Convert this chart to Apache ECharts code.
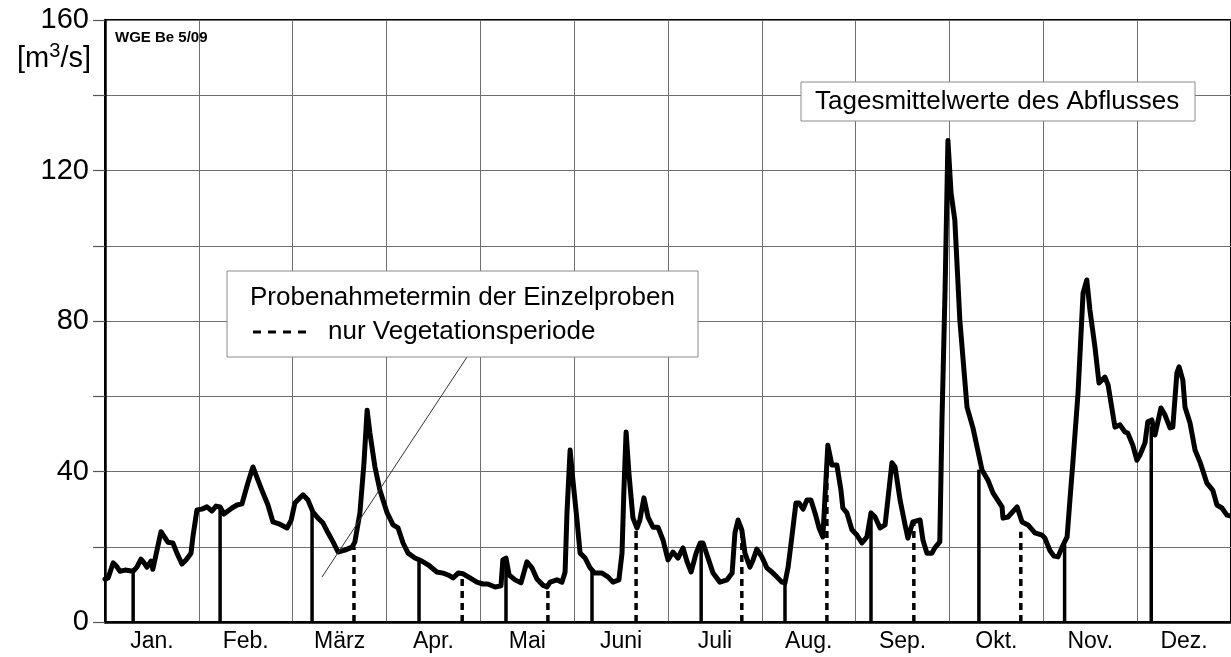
<!DOCTYPE html>
<html>
<head>
<meta charset="utf-8">
<script src="https://cdn.jsdelivr.net/npm/echarts@6/dist/echarts.min.js"></script>
<style>
html,body{margin:0;padding:0;background:#fff;}
#chart{width:1231px;height:657px;}
</style>
</head>
<body>
<div id="chart"></div>
<script>
// Months (schematic year: each month drawn with equal width = 30 "days")
const months = ['Jan.','Feb.','März','Apr.','Mai','Juni','Juli','Aug.','Sep.','Okt.','Nov.','Dez.'];
const yTicks = [0, 40, 80, 120, 160];

// Daily mean discharge (Tagesmittelwerte des Abflusses), position in schematic days
const days = [0,1.0,2.6,3.5,4.8,6.4,9.0,10.2,11.5,12.5,13.4,14.7,15.3,16.6,17.9,18.5,20.1,21.7,23.0,24.6,25.9,27.5,28.1,29.4,31.0,32.6,34.2,35.5,36.8,38.0,40.6,42.2,43.8,44.4,45.7,47.3,48.9,50.5,52.1,53.7,55.9,58.2,59.5,60.7,63.3,64.9,66.5,68.1,69.7,71.3,72.9,74.5,76.7,79.0,79.9,81.5,82.8,83.8,84.7,86.3,87.9,90.2,92.1,93.7,95.3,96.9,99.1,101.3,103.3,106.1,108.1,109.7,111.3,112.9,114.5,116.7,118.9,120.8,122.4,124.7,126.6,127.2,128.2,129.2,131.1,133.0,134.9,136.5,138.1,140.0,141.3,142.3,144.5,146.1,147.1,147.7,148.7,149.6,150.9,151.9,153.5,155.1,156.6,158.9,160.8,162.4,164.3,165.3,165.9,166.6,167.5,168.8,170.1,171.0,172.3,173.6,175.2,176.8,178.4,180.0,181.6,183.2,184.8,186.1,187.4,189.0,190.3,191.2,192.8,194.4,196.6,198.9,200.5,201.4,202.4,203.6,204.6,206.2,207.2,208.4,210.0,211.6,213.2,214.8,216.4,217.4,218.4,219.6,220.9,221.9,223.2,224.4,225.7,227.0,228.3,229.5,230.5,231.1,232.4,234.0,235.3,235.9,237.2,238.8,240.4,242.0,243.6,244.9,246.2,247.8,249.4,251.6,252.6,254.2,255.8,256.7,258.3,260.6,261.5,262.8,264.4,265.3,266.9,267.6,268.6,269.5,270.5,271.7,273.3,275.6,277.5,280.4,282.3,283.9,286.8,287.1,288.7,291.6,293.2,295.1,297.3,299.6,300.5,302.1,303.4,304.7,306.0,307.6,308.5,309.5,311.1,312.7,313.9,314.9,316.5,317.8,319.7,320.7,322.9,324.5,326.1,327.0,328.6,329.9,330.9,332.5,333.4,334.7,335.7,337.6,338.9,340.5,341.4,342.7,343.4,344.6,345.3,346.9,348.5,350.1,352.3,354.2,355.5,357.1,358.7,359.7];
const flow = [11.4,11.7,15.7,15,13.5,13.8,13.5,14.6,16.7,15.7,14.6,16.2,14,19,24,24.3,21.2,21,18.3,15.4,16.5,18.3,22.6,29.8,30,30.6,29.5,30.8,30.6,28.7,30.3,31.1,31.4,31.6,37,41.2,37.7,34.3,31.1,26.6,26,25,27,31.6,33.8,32.4,29.2,27.6,26.3,23.7,21.3,18.6,19.1,19.9,21.3,29,42.3,56.3,50.2,41.2,35,29,25.8,25,21,18.3,17,16.2,15.2,13.3,13,12.5,11.7,13,12.8,11.7,10.6,10.1,10.1,9.3,9.6,16.5,17,12.5,11.2,10.4,16,14.4,11.4,9.8,9.3,10.6,11.2,10.6,13.3,29,45.7,37.7,27.1,18.3,17,14.4,13,13,12,10.6,11.2,18.3,35,50.5,39.6,27.6,25,27.1,33,27.9,25.2,25.2,21.8,16.5,18.6,17,19.7,16,13.3,18.3,21,21,17,13,10.6,11.2,13,23.7,27.1,24.5,18.3,14.6,16.5,19.4,17.3,14.4,13.3,12,10.6,10.4,14.6,22.6,31.6,31.6,30,32.4,32.4,29,25,22.6,37.7,47,41.7,41.7,35,30.3,29,24.5,23.1,21,22.6,29,27.9,25,25.8,42.3,41.2,32.4,25.8,22.3,26.6,27.1,21.8,18.3,18.3,19.7,21.3,53.7,89,128,114,106.8,80.3,57.1,51.6,40.4,37.7,34.3,30.6,27.6,27.9,30.6,26.6,25.8,23.7,23.1,22.3,19,17.5,17.3,19.9,22.6,32.4,43,60.9,87.4,90.9,82.9,73.1,63.5,65.1,63,51.8,52.4,50.5,50.2,47,43,44.4,47.6,53.2,53.7,49.7,56.9,55,51.6,51.8,66.2,67.8,64.3,57.1,52.9,45.7,42.5,36.9,35,31.1,30.3,28.4,28.2];

// Sampling dates (Probenahmetermine): position, discharge at that date, 1 = only vegetation period (dashed)
const sampleDays = [9.0,36.8,66.2,79.6,100.4,114.2,128.2,141.6,155.7,169.8,190.6,203.6,217.4,230.8,244.9,258.6,279.4,292.8,306.8,334.5];
const sampleFlow = [13.5,30.6,29.5,20,16.5,12.8,17,9.5,13.5,26,21,24.5,10.4,45,29,26.6,40.5,24,20.5,52];
const sampleVeg  = [0,0,0,1,0,1,0,1,0,1,0,1,0,1,0,1,0,1,0,0];

const FONT = "'Liberation Sans', Arial, Helvetica, sans-serif";

const chart = echarts.init(document.getElementById('chart'), null, {renderer: 'canvas'});

const curveData = days.map((d, i) => [d, flow[i]]);
const sampleData = sampleDays.map((d, i) => [d, sampleFlow[i], sampleVeg[i]]);

const option = {
  animation: false,
  backgroundColor: '#fff',
  grid: {
    left: 105, top: 20, right: 0, bottom: 35,
    show: true, borderColor: '#000', borderWidth: 2, backgroundColor: 'transparent'
  },
  xAxis: [
    {
      type: 'value', min: 0, max: 360, interval: 30,
      axisLine: {show: true, onZero: false, lineStyle: {color: '#000', width: 2.5}},
      axisTick: {show: false},
      axisLabel: {show: false},
      splitLine: {show: true, lineStyle: {color: '#6e6e6e', width: 1}}
    },
    {
      type: 'category', data: months, position: 'bottom', boundaryGap: true,
      axisLine: {show: false}, axisTick: {show: false}, splitLine: {show: false},
      axisLabel: {color: '#000', fontSize: 23, fontFamily: FONT, margin: 8, interval: 0}
    }
  ],
  yAxis: {
    type: 'value', min: 0, max: 160, interval: 20,
    axisLine: {show: true, lineStyle: {color: '#000', width: 2.5}},
    axisTick: {show: true, length: 12, inside: false, lineStyle: {color: '#555', width: 1.2}},
    axisLabel: {
      color: '#000', fontSize: 29, fontFamily: FONT, margin: 16,
      formatter: v => (yTicks.indexOf(v) >= 0 ? String(v) : '')
    },
    splitLine: {show: true, lineStyle: {color: '#6e6e6e', width: 1}}
  },
  series: [
    {
      type: 'custom',
      xAxisIndex: 0, yAxisIndex: 0,
      z: 2,
      data: sampleData,
      encode: {x: 0, y: 1},
      renderItem: function (params, api) {
        const x = api.value(0), y = api.value(1), veg = api.value(2);
        const p0 = api.coord([x, 0]);
        const p1 = api.coord([x, y]);
        return {
          type: 'line',
          shape: {x1: p0[0], y1: p0[1], x2: p1[0], y2: p1[1]},
          style: {stroke: '#000', lineWidth: 3.5, lineDash: veg ? [7, 5] : null}
        };
      }
    },
    {
      type: 'line',
      xAxisIndex: 0, yAxisIndex: 0,
      z: 3,
      data: curveData,
      showSymbol: false,
      symbol: 'none',
      smooth: false,
      lineStyle: {color: '#000', width: 5, join: 'round', cap: 'round'}
    }
  ],
  graphic: [
    {
      type: 'text', left: 115, top: 30, z: 10,
      style: {text: 'WGE Be 5/09', font: 'bold 15px ' + FONT, fill: '#000'}
    },
    {
      type: 'text', right: 1231 - 91, top: 41, z: 10,
      style: {
        text: '{b|[m}{s|3}{b|/s]}',
        rich: {
          b: {fontSize: 29, fontFamily: FONT, fill: '#000', lineHeight: 36},
          s: {fontSize: 20, fontFamily: FONT, fill: '#000', verticalAlign: 'top', lineHeight: 28}
        }
      }
    },
    // Legend box: sampling dates
    {
      type: 'rect', z: 10,
      shape: {x: 227, y: 271, width: 471, height: 86},
      style: {fill: '#fff', stroke: '#8a8a8a', lineWidth: 1}
    },
    {
      type: 'text', x: 250, y: 298, z: 11,
      style: {text: 'Probenahmetermin der Einzelproben', font: '26px ' + FONT, fill: '#000', textVerticalAlign: 'middle', verticalAlign: 'middle'}
    },
    {
      type: 'line', z: 11,
      shape: {x1: 253, y1: 332, x2: 310, y2: 332},
      style: {stroke: '#000', lineWidth: 3, lineDash: [8, 7]}
    },
    {
      type: 'text', x: 328, y: 332, z: 11,
      style: {text: 'nur Vegetationsperiode', font: '26px ' + FONT, fill: '#000', textVerticalAlign: 'middle', verticalAlign: 'middle'}
    },
    {
      type: 'line', z: 9,
      shape: {x1: 467, y1: 357, x2: 322, y2: 577},
      style: {stroke: '#333', lineWidth: 1}
    },
    // Legend box: daily means
    {
      type: 'rect', z: 10,
      shape: {x: 801, y: 82, width: 394, height: 39},
      style: {fill: '#fff', stroke: '#8a8a8a', lineWidth: 1}
    },
    {
      type: 'text', x: 815, y: 102, z: 11,
      style: {text: 'Tagesmittelwerte des Abflusses', font: '26px ' + FONT, fill: '#000', textVerticalAlign: 'middle', verticalAlign: 'middle'}
    }
  ]
};

chart.setOption(option);
</script>
</body>
</html>
